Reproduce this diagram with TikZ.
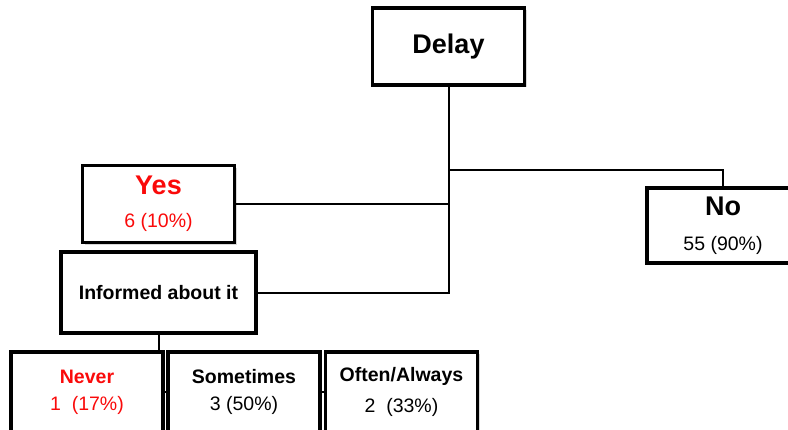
\documentclass[tikz,border=0pt]{standalone}
\usepackage{fontspec}
\setmainfont{Liberation Sans}
\usepackage{xcolor}
\usepackage{tikz}
\usetikzlibrary{positioning,shadows}

\definecolor{hotred}{RGB}{250,10,10}
\newcommand{\bigbf}{\fontsize{27}{31}\selectfont\bfseries}
\newcommand{\midbf}{\fontsize{19.5}{23}\selectfont\bfseries}
\newcommand{\cnt}{\fontsize{19.5}{23}\selectfont}

\begin{document}
\begin{tikzpicture}[
  x=1pt, y=-1pt,
  box/.style={draw, line width=3.2pt, align=center, inner sep=2pt,
              minimum width=152pt, minimum height=77pt, fill=white,
              drop shadow={shadow xshift=2pt, shadow yshift=-2pt, opacity=.3}},
  link/.style={line width=2pt}
]
  \useasboundingbox (0,0) rectangle (788,429);
  \node[box] (delay) at (448.5,46.5) {\bigbf Delay};
  \node[box] (yes) at (158.5,204) {\bigbf\color{hotred} Yes\\[18pt] \cnt\color{hotred}6 (10\%)};
  \node[box, minimum width=195pt, minimum height=81pt] (inf) at (158.5,292.5) {\midbf Informed about it};
  \node[box, minimum height=75pt] (no) at (723,225.5) {\bigbf No\\[20pt] \cnt 55 (90\%)};
  \node[box, minimum height=80pt] (never) at (87,392) {\midbf\color{hotred} Never\\[12pt] \cnt\color{hotred}1\ \ (17\%)};
  \node[box, minimum height=80pt] (some) at (244,392) {\midbf Sometimes\\[12pt] \cnt 3 (50\%)};
  \node[box, minimum height=80pt] (often) at (401.5,392) {\midbf Often/Always\\[12pt] \cnt 2\ \ (33\%)};
  \coordinate (nobranch) at ([yshift=16pt]no.north);
  \draw[link] (delay.south) -- (delay.south |- inf.east) -- (inf.east);
  \draw[link] (yes.east) -- (yes.east -| delay.south);
  \draw[link] (no.north) -- (nobranch) -- (nobranch -| delay.south);
  \draw[link] (inf.south) -- (inf.south |- never.north);
  \draw[link] (never.east) -- (some.west);
  \draw[link] (some.east) -- (often.west);
\end{tikzpicture}
\end{document}
